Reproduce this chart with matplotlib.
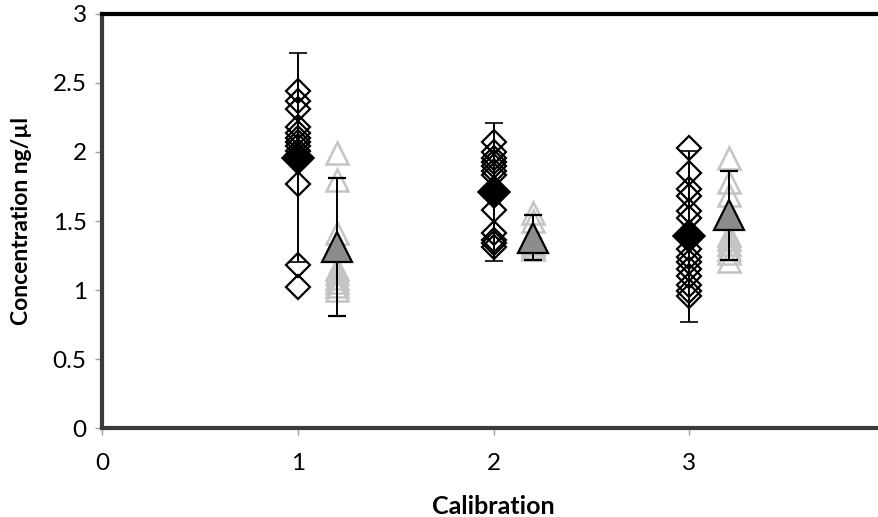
import numpy as np
import matplotlib
matplotlib.use('Agg')
import matplotlib.pyplot as plt

plt.rcParams['font.family'] = ['Lato', 'DejaVu Sans']

# open diamonds: individual measurements per calibration
cal1_pts = [2.44, 2.37, 2.31, 2.18, 2.14, 2.10, 2.07, 2.04, 2.01, 1.77, 1.18, 1.02]
cal2_pts = [2.07, 2.00, 1.96, 1.93, 1.90, 1.86, 1.83, 1.58, 1.41, 1.36, 1.34, 1.31]
cal3_pts = [2.03, 1.85, 1.73, 1.68, 1.57, 1.52, 1.30, 1.24, 1.20, 1.15, 1.10, 1.04, 0.99, 0.96]
# open light triangles: second set, plotted at calibration + 0.2
tri1_pts = [1.99, 1.80, 1.41, 1.15, 1.12, 1.09, 1.06, 1.03, 1.00]
tri2_pts = [1.56, 1.50, 1.35, 1.33, 1.31, 1.30]
tri3_pts = [1.96, 1.78, 1.69, 1.40, 1.37, 1.33, 1.30, 1.27, 1.21]

calib = [1, 2, 3]
dia_mean = [1.96, 1.71, 1.39]
dia_err = [0.76, 0.50, 0.62]
tri_mean = [1.315, 1.38, 1.54]
tri_err = [0.50, 0.16, 0.32]
tri_shift = 0.2

fig = plt.figure(figsize=(8.79, 5.17), dpi=100)
ax = fig.add_axes([0.116, 0.172, 0.891, 0.801])

dia_sets = [cal1_pts, cal2_pts, cal3_pts]
tri_sets = [tri1_pts, tri2_pts, tri3_pts]

for c, pts in zip(calib, tri_sets):
  ax.plot([c + tri_shift]*len(pts), pts, ls='none', marker='^', ms=16,
          mfc='none', mec='#c4c4c4', mew=1.8, zorder=2)
ax.errorbar(np.array(calib) + tri_shift, tri_mean, yerr=tri_err, fmt='^', ms=22,
            mfc='#8c8c8c', mec='black', mew=1.6, ecolor='black', elinewidth=1.4,
            capsize=6.5, capthick=1.4, zorder=3)

for c, pts in zip(calib, dia_sets):
  ax.plot([c]*len(pts), pts, ls='none', marker='D', ms=12,
          mfc='none', mec='black', mew=1.6, zorder=4)
ax.errorbar(calib, dia_mean, yerr=dia_err, fmt='D', ms=16,
            mfc='black', mec='black', mew=1.2, ecolor='black', elinewidth=1.4,
            capsize=6.5, capthick=1.4, zorder=5)

ax.set_xlim(0, 4)
ax.set_ylim(0, 3)
ax.set_xticks([0, 1, 2, 3])
ax.set_yticks(np.arange(0, 3.01, 0.5))
ax.set_yticklabels(['0', '0.5', '1', '1.5', '2', '2.5', '3'])
ax.tick_params(axis='both', direction='out', length=5, width=1, color='#a0a0a0', labelsize=17.5)
ax.tick_params(axis='x', pad=13)
ax.tick_params(axis='y', pad=6)

ax.spines['top'].set_linewidth(3)
ax.spines['top'].set_color('black')
ax.spines['right'].set_visible(False)
for s in ['left', 'bottom']:
  ax.spines[s].set_linewidth(3)
  ax.spines[s].set_color('#3a3a3a')

ax.set_xlabel('Calibration', fontsize=18, fontweight='bold', labelpad=15)
ax.set_ylabel('Concentration ng/µl', fontsize=16.5, fontweight='bold', labelpad=15)

fig.savefig('out.png', dpi=100)
